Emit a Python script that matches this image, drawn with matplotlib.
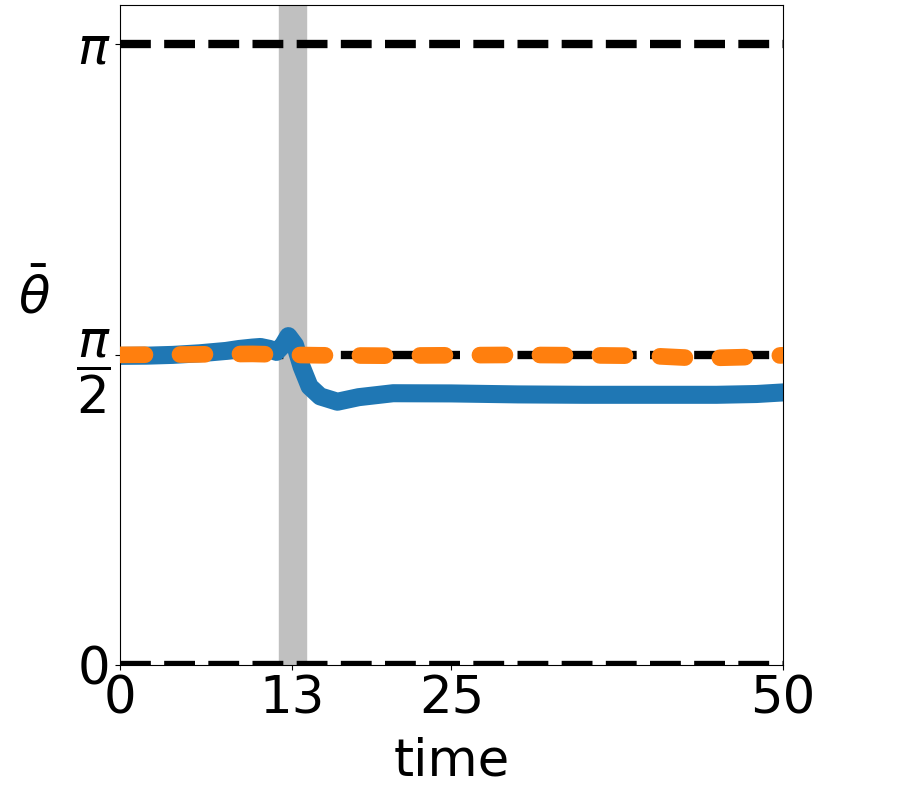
import numpy as np
import matplotlib
matplotlib.use("Agg")
import matplotlib.pyplot as plt

# ---- data ----
blue_t = [0, 2, 4, 6, 8, 9, 10, 10.6, 11.3, 11.8, 12.3, 12.7, 13.2, 13.7, 14.3,
          15.1, 16.4, 18.0, 20.6, 25, 30, 35, 40, 45, 48, 50]
blue_y = [1.565, 1.566, 1.57, 1.578, 1.59, 1.60, 1.607, 1.61, 1.60, 1.585, 1.62, 1.665,
          1.62, 1.51, 1.41, 1.36, 1.333, 1.356, 1.376, 1.375, 1.37, 1.368, 1.368,
          1.368, 1.372, 1.38]

orange_t = [0, 5, 10, 13, 15, 20, 25, 30, 35, 40, 43, 45, 48, 50]
orange_y = [1.570, 1.572, 1.575, 1.570, 1.568, 1.566, 1.568, 1.570, 1.568, 1.565,
            1.555, 1.555, 1.560, 1.568]

ref_levels = [0, np.pi / 2, np.pi]
xticks = [0, 13, 25, 50]
yticks = [0, np.pi / 2, np.pi]
ytick_labels = ["0", r"$\dfrac{\pi}{2}$", r"$\pi$"]
span = (12, 14)

fs = 37

fig = plt.figure(figsize=(9.02, 7.90), dpi=100)
ax = fig.add_axes([0.133, 0.158, 0.735, 0.836])

ax.axvspan(span[0], span[1], color="silver", zorder=0)

for lev in ref_levels:
    ax.axhline(lev, color="black", linestyle="--", linewidth=6, zorder=1)

ax.plot(blue_t, blue_y, color="#1f77b4", linewidth=13, zorder=2)
ax.plot(orange_t, orange_y, color="#ff7f0e", linewidth=12,
        linestyle=(0, (1.5, 2.1)), dash_capstyle="round", zorder=3)

ax.set_xlim(0, 50)
ax.set_ylim(0, np.pi + 0.2)
ax.set_xticks(xticks)
ax.set_xticklabels([str(v) for v in xticks], fontsize=fs)
ax.set_yticks(yticks)
ax.set_yticklabels(ytick_labels, fontsize=fs)

ax.set_xlabel("time", fontsize=fs, labelpad=8)
ax.set_ylabel(r"$\bar{\theta}$", fontsize=fs, rotation=0, ha="center", va="center")
ax.yaxis.set_label_coords(-0.13, 0.556)

fig.savefig("out.png", dpi=100)
